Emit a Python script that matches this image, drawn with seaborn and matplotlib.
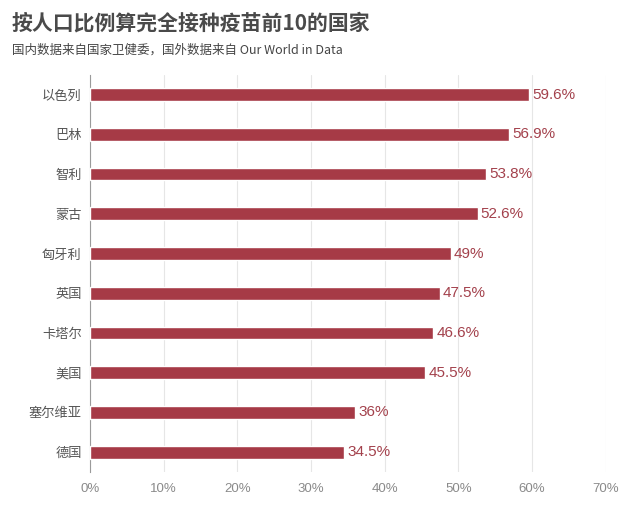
import matplotlib
matplotlib.use("Agg")
import matplotlib.pyplot as plt
import pandas as pd
import seaborn as sns

countries = ["以色列", "巴林", "智利", "蒙古", "匈牙利", "英国", "卡塔尔", "美国", "塞尔维亚", "德国"]
rates = [59.6, 56.9, 53.8, 52.6, 49, 47.5, 46.6, 45.5, 36, 34.5]
rate_labels = ["59.6%", "56.9%", "53.8%", "52.6%", "49%", "47.5%", "46.6%", "45.5%", "36%", "34.5%"]
xticks = [0, 10, 20, 30, 40, 50, 60, 70]

BAR = "#a63a46"
LABEL = "#a3414c"
LATIN = ["Liberation Sans", "DejaVu Sans"]

sns.set_theme(style="white")
plt.rcParams["font.family"] = ["Noto Sans CJK SC", "DejaVu Sans"]

df = pd.DataFrame({"country": countries, "rate": rates})

fig = plt.figure(figsize=(6.4, 5.12), dpi=100)
ax = fig.add_axes([0.1406, 0.078, 0.806, 0.776])

sns.barplot(data=df, x="rate", y="country", color=BAR, width=0.32,
            saturation=1, ax=ax, zorder=3)

for i, (v, lab) in enumerate(zip(rates, rate_labels)):
    ax.text(v + 0.4, i, lab, va="center", ha="left", color=LABEL,
            fontsize=11, family=LATIN)

ax.set_xlim(0, 70)
ax.set_ylim(9.5, -0.5)
ax.set_xticks(xticks)
ax.set_xticklabels([f"{t}%" for t in xticks], family=LATIN)
ax.grid(axis="x", color="#e6e6e6", linewidth=0.8, zorder=0)
ax.set_xlabel("")
ax.set_ylabel("")
for s in ["top", "right", "bottom"]:
    ax.spines[s].set_visible(False)
ax.spines["left"].set_color("#9a9a9a")
ax.spines["left"].set_linewidth(0.8)
ax.tick_params(axis="x", colors="#8a8a8a", labelsize=9.5, length=0, pad=8)
ax.tick_params(axis="y", colors="#555555", labelsize=9.5, length=0, pad=6)

fig.text(0.018, 0.955, "按人口比例算完全接种疫苗前10的国家", fontsize=15,
         fontweight="bold", color="#4a4a4a", va="center")
fig.text(0.018, 0.903, "国内数据来自国家卫健委，国外数据来自 Our World in Data",
         fontsize=9, color="#444444", va="center")

fig.savefig("out.png", dpi=100)
